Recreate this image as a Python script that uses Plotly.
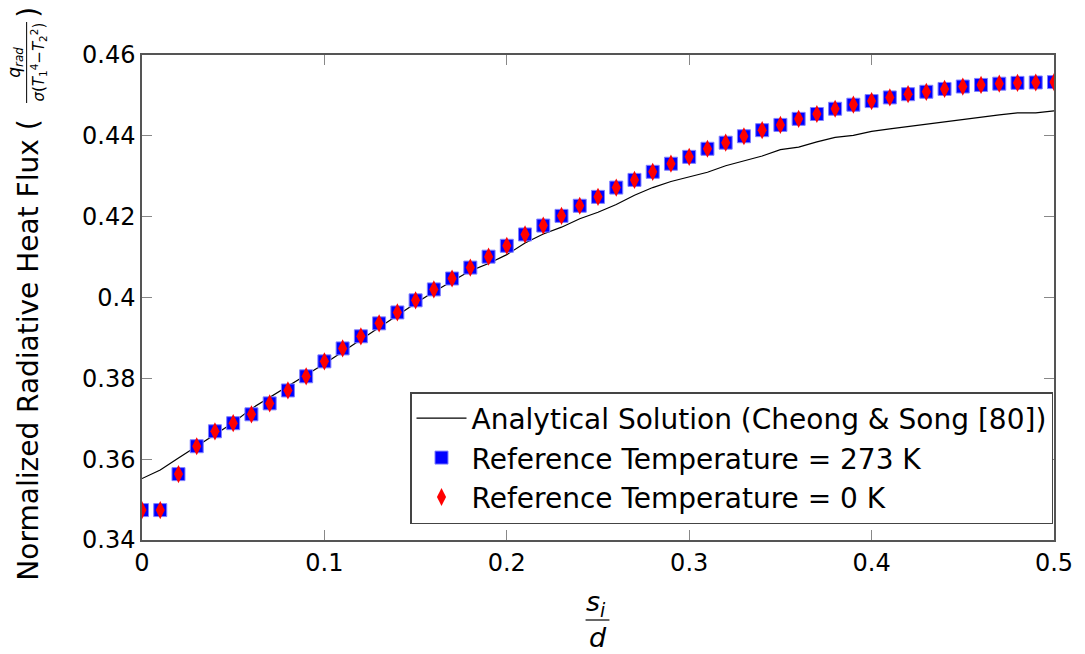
import plotly.graph_objects as go

# Non-dimensional position s_i/d
s_over_d = [0.00, 0.01, 0.02, 0.03, 0.04, 0.05, 0.06, 0.07, 0.08, 0.09,
            0.10, 0.11, 0.12, 0.13, 0.14, 0.15, 0.16, 0.17, 0.18, 0.19,
            0.20, 0.21, 0.22, 0.23, 0.24, 0.25, 0.26, 0.27, 0.28, 0.29,
            0.30, 0.31, 0.32, 0.33, 0.34, 0.35, 0.36, 0.37, 0.38, 0.39,
            0.40, 0.41, 0.42, 0.43, 0.44, 0.45, 0.46, 0.47, 0.48, 0.49,
            0.50]

# Analytical solution (Cheong & Song)
analytical = [0.3552, 0.3573, 0.3603, 0.3632, 0.3661, 0.3690, 0.3725, 0.3753, 0.3779, 0.3807,
              0.3836, 0.3866, 0.3896, 0.3927, 0.3956, 0.3986, 0.4014, 0.4041, 0.4066, 0.4084,
              0.4106, 0.4135, 0.4157, 0.4174, 0.4195, 0.4211, 0.4230, 0.4253, 0.4272, 0.4287,
              0.4299, 0.4310, 0.4326, 0.4338, 0.4350, 0.4366, 0.4372, 0.4385, 0.4396, 0.4401,
              0.4411, 0.4417, 0.4423, 0.4429, 0.4435, 0.4441, 0.4447, 0.4452, 0.4457, 0.4457,
              0.4462]

# Computed heat flux, reference temperature 273 K
flux_273 = [0.3474, 0.3474, 0.3563, 0.3632, 0.3669, 0.3689, 0.3711, 0.3738, 0.3770, 0.3805,
            0.3842, 0.3874, 0.3904, 0.3936, 0.3963, 0.3993, 0.4020, 0.4047, 0.4074, 0.4101,
            0.4128, 0.4156, 0.4178, 0.4202, 0.4227, 0.4249, 0.4272, 0.4291, 0.4311, 0.4331,
            0.4348, 0.4368, 0.4383, 0.4399, 0.4414, 0.4427, 0.4442, 0.4454, 0.4467, 0.4477,
            0.4486, 0.4495, 0.4503, 0.4509, 0.4516, 0.4522, 0.4526, 0.4529, 0.4531, 0.4532,
            0.4533]

# Computed heat flux, reference temperature 0 K
flux_0 = [0.3474, 0.3474, 0.3563, 0.3632, 0.3669, 0.3689, 0.3711, 0.3738, 0.3770, 0.3805,
          0.3842, 0.3874, 0.3904, 0.3936, 0.3963, 0.3993, 0.4020, 0.4047, 0.4074, 0.4101,
          0.4128, 0.4156, 0.4178, 0.4202, 0.4227, 0.4249, 0.4272, 0.4291, 0.4311, 0.4331,
          0.4348, 0.4368, 0.4383, 0.4399, 0.4414, 0.4427, 0.4442, 0.4454, 0.4467, 0.4477,
          0.4486, 0.4495, 0.4503, 0.4509, 0.4516, 0.4522, 0.4526, 0.4529, 0.4531, 0.4532,
          0.4533]

x_ticks = [0, 0.1, 0.2, 0.3, 0.4, 0.5]
x_tick_text = ["0", "0.1", "0.2", "0.3", "0.4", "0.5"]
y_ticks = [0.34, 0.36, 0.38, 0.40, 0.42, 0.44, 0.46]
y_tick_text = ["0.34", "0.36", "0.38", "0.4", "0.42", "0.44", "0.46"]

FONT = "DejaVu Sans"
W, H = 1085, 654
ML, MR, MT, MB = 142, 26, 55, 114
PW, PH = W - ML - MR, H - MT - MB


def px(xp):
    return (xp - ML) / PW


def py(yp):
    return (H - MB - yp) / PH


fig = go.Figure()
fig.add_trace(go.Scatter(
    x=s_over_d, y=analytical, mode="lines",
    line=dict(color="black", width=1.2),
    name="Analytical Solution (Cheong & Song [80])",
))
fig.add_trace(go.Scatter(
    x=s_over_d, y=flux_273, mode="markers",
    marker=dict(symbol="square", size=13, color="#0000ff",
                line=dict(width=1, color="#8080ff")),
    name="Reference Temperature = 273 K",
))
fig.add_trace(go.Scatter(
    x=s_over_d, y=flux_0, mode="markers",
    marker=dict(symbol="diamond-tall", size=13, color="#ff0000",
                line=dict(width=0)),
    name="Reference Temperature = 0 K",
))

axis_common = dict(
    showgrid=False, zeroline=False, showline=True, linecolor="#555555",
    linewidth=1.5, mirror="ticks", ticks="inside", ticklen=10,
    tickcolor="#888888", tickwidth=1,
    tickfont=dict(family=FONT, size=24, color="black"),
)
fig.update_xaxes(range=[0, 0.5], tickvals=x_ticks, ticktext=x_tick_text, **axis_common)
fig.update_yaxes(range=[0.34, 0.46], tickvals=y_ticks, ticktext=y_tick_text, **axis_common)

annotations = [
    # x-axis label as a fraction s_i / d
    dict(x=px(598), y=py(603), text="<i>s<sub>i</sub></i>", showarrow=False,
         xref="paper", yref="paper", xanchor="center", yanchor="middle",
         font=dict(family=FONT, size=27, color="black")),
    dict(x=px(600), y=py(637), text="<i>d</i>", showarrow=False,
         xref="paper", yref="paper", xanchor="center", yanchor="middle",
         font=dict(family=FONT, size=27, color="black")),
    # y-axis label
    dict(x=px(27), y=py(350), text="Normalized Radiative Heat Flux (",
         showarrow=False, textangle=-90,
         xref="paper", yref="paper", xanchor="center", yanchor="middle",
         font=dict(family=FONT, size=28, color="black")),
    dict(x=px(15), y=py(62), text="<i>q<sub>rad</sub></i>",
         showarrow=False, textangle=-90,
         xref="paper", yref="paper", xanchor="center", yanchor="middle",
         font=dict(family=FONT, size=17, color="black")),
    dict(x=px(38), y=py(62),
         text="<i>σ</i>(<i>T</i><sub>1</sub><sup>4</sup>−<i>T</i><sub>2</sub><sup>2</sup>)",
         showarrow=False, textangle=-90,
         xref="paper", yref="paper", xanchor="center", yanchor="middle",
         font=dict(family=FONT, size=15, color="black")),
    dict(x=px(27), y=py(12), text=")",
         showarrow=False, textangle=-90,
         xref="paper", yref="paper", xanchor="center", yanchor="middle",
         font=dict(family=FONT, size=28, color="black")),
]

shapes = [
    dict(type="line", xref="paper", yref="paper",
         x0=px(588), x1=px(612), y0=py(620), y1=py(620),
         line=dict(color="black", width=1.2)),
    dict(type="line", xref="paper", yref="paper",
         x0=px(26), x1=px(26), y0=py(22), y1=py(103),
         line=dict(color="black", width=1)),
]

fig.update_layout(
    width=W, height=H,
    margin=dict(l=ML, r=MR, t=MT, b=MB),
    paper_bgcolor="white", plot_bgcolor="white",
    font=dict(family=FONT, size=26, color="black"),
    showlegend=True,
    legend=dict(
        x=px(1058), y=py(524), xanchor="right", yanchor="bottom",
        bgcolor="white", bordercolor="#444444", borderwidth=1.5,
        font=dict(family=FONT, size=28, color="black"),
        itemwidth=50, tracegroupgap=0,
    ),
    annotations=annotations,
    shapes=shapes,
)

fig.write_html("out.html")
